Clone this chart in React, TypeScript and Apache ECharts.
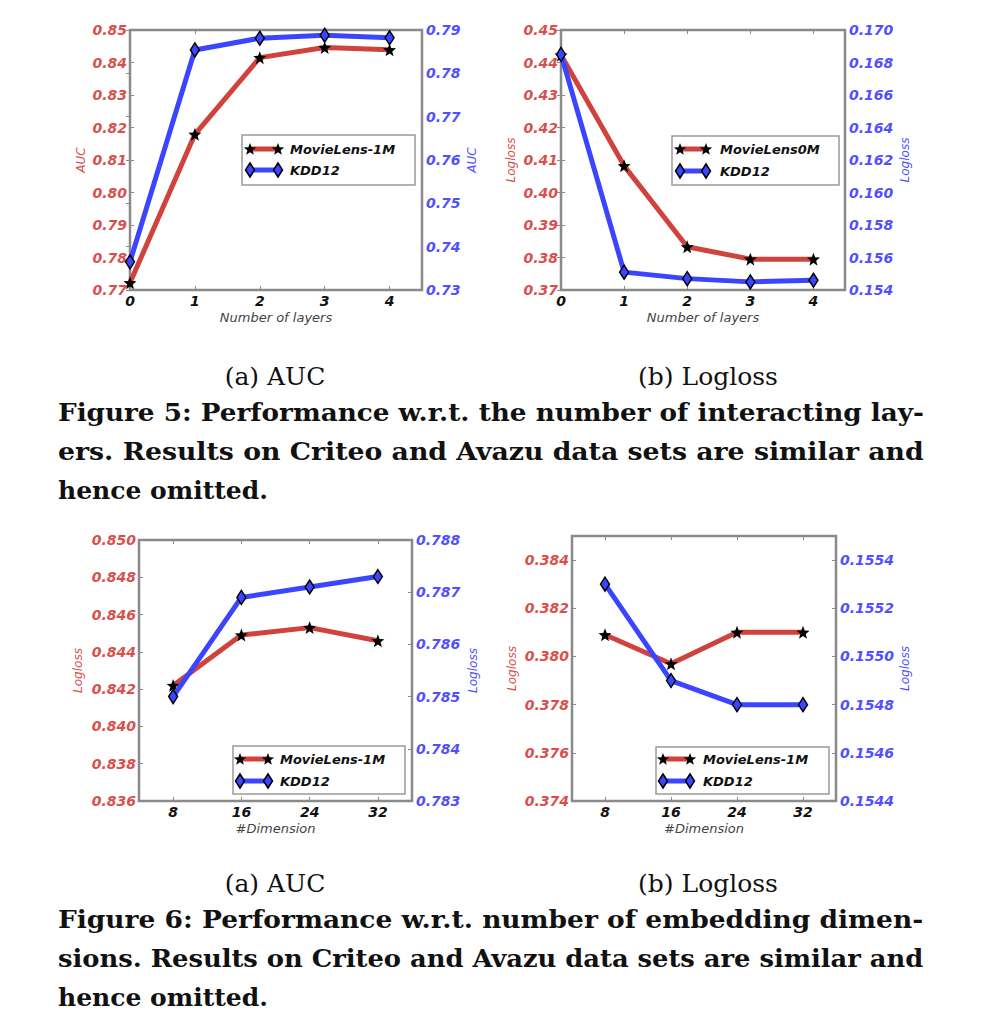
import React, { useEffect, useRef } from "react";
import * as echarts from "echarts";

// ---------------- data ----------------
const layers = [0, 1, 2, 3, 4];
const dims = ["8", "16", "24", "32"];

const f5aMovie = [0.7722, 0.8179, 0.8415, 0.8446, 0.8439];
const f5aKdd = [0.7365, 0.7854, 0.7881, 0.7888, 0.7882];
const f5bMovie = [0.4423, 0.4082, 0.3833, 0.3795, 0.3795];
const f5bKdd = [0.1685, 0.1551, 0.1547, 0.1545, 0.1546];
const f6aMovie = [0.8422, 0.8449, 0.8453, 0.8446];
const f6aKdd = [0.785, 0.7869, 0.7871, 0.7873];
const f6bMovie = [0.3809, 0.3797, 0.381, 0.381];
const f6bKdd = [0.1553, 0.1549, 0.1548, 0.1548];

const subCaptions = ["(a) AUC", "(b) Logloss"];
const fig5Lines = [
  "Figure 5: Performance w.r.t. the number of interacting lay-",
  "ers. Results on Criteo and Avazu data sets are similar and",
  "hence omitted.",
];
const fig6Lines = [
  "Figure 6: Performance w.r.t. number of embedding dimen-",
  "sions. Results on Criteo and Avazu data sets are similar and",
  "hence omitted.",
];

// ---------------- style ----------------
const RED = "#d0433d";
const BLUE = "#3b45ff";
const RED_TXT = "#d9504b";
const BLUE_TXT = "#5050ff";
const FRAME = "#8a8a8a";
const SANS = "DejaVu Sans";
const SERIF = "DejaVu Serif";

function starPath(): string {
  const pts: number[][] = [];
  for (let k = 0; k < 10; k++) {
    const r = k % 2 === 0 ? 1 : 0.42;
    const a = -Math.PI / 2 + (k * Math.PI) / 5;
    pts.push([r * Math.cos(a), r * Math.sin(a)]);
  }
  return "path://" + pts.map((p, i) => (i ? "L" : "M") + p[0].toFixed(3) + "," + p[1].toFixed(3)).join(" ") + " Z";
}
function starPoints(cx: number, cy: number, R: number): number[][] {
  const pts: number[][] = [];
  for (let k = 0; k < 10; k++) {
    const r = k % 2 === 0 ? R : R * 0.42;
    const a = -Math.PI / 2 + (k * Math.PI) / 5;
    pts.push([cx + r * Math.cos(a), cy + r * Math.sin(a)]);
  }
  return pts;
}
const STAR = starPath();

type Panel = {
  grid: { left: number; top: number; width: number; height: number };
  cat: boolean;
  xName: string;
  left: { min: number; max: number; interval: number; digits: number; name: string; gap: number };
  right: { min: number; max: number; interval: number; digits: number; name: string; gap: number };
  movieName: string;
  movie: number[];
  kdd: number[];
  legend: { x: number; y: number; w: number; h: number; rows: number[]; h1: number; h2: number; tx: number };
};

const panels: Panel[] = [
  {
    grid: { left: 130, top: 30, width: 292, height: 260 },
    cat: false,
    xName: "Number of layers",
    left: { min: 0.77, max: 0.85, interval: 0.01, digits: 2, name: "AUC", gap: 43 },
    right: { min: 0.73, max: 0.79, interval: 0.01, digits: 2, name: "AUC", gap: 44 },
    movieName: "MovieLens-1M",
    movie: f5aMovie,
    kdd: f5aKdd,
    legend: { x: 242, y: 135, w: 173, h: 50, rows: [149, 170], h1: 250, h2: 278, tx: 290 },
  },
  {
    grid: { left: 561, top: 30, width: 284, height: 260 },
    cat: false,
    xName: "Number of layers",
    left: { min: 0.37, max: 0.45, interval: 0.01, digits: 2, name: "Logloss", gap: 44 },
    right: { min: 0.154, max: 0.17, interval: 0.002, digits: 3, name: "Logloss", gap: 54 },
    movieName: "MovieLens0M",
    movie: f5bMovie,
    kdd: f5bKdd,
    legend: { x: 672, y: 136, w: 167, h: 49, rows: [149, 171], h1: 680, h2: 706, tx: 720 },
  },
  {
    grid: { left: 139, top: 540, width: 273, height: 261 },
    cat: true,
    xName: "#Dimension",
    left: { min: 0.836, max: 0.85, interval: 0.002, digits: 3, name: "Logloss", gap: 55 },
    right: { min: 0.783, max: 0.788, interval: 0.001, digits: 3, name: "Logloss", gap: 55 },
    movieName: "MovieLens-1M",
    movie: f6aMovie,
    kdd: f6aKdd,
    legend: { x: 233, y: 746, w: 172, h: 48, rows: [759, 781], h1: 240, h2: 268, tx: 280 },
  },
  {
    grid: { left: 572, top: 536, width: 264, height: 265 },
    cat: true,
    xName: "#Dimension",
    left: { min: 0.374, max: 0.385, interval: 0.002, digits: 3, name: "Logloss", gap: 54 },
    right: { min: 0.1544, max: 0.1555, interval: 0.0002, digits: 4, name: "Logloss", gap: 63 },
    movieName: "MovieLens-1M",
    movie: f6bMovie,
    kdd: f6bKdd,
    legend: { x: 656, y: 747, w: 173, h: 47, rows: [759, 781], h1: 663, h2: 690, tx: 703 },
  },
];

function measure(text: string, font: string): number {
  const ctx = document.createElement("canvas").getContext("2d");
  if (!ctx) return text.length * 14;
  ctx.font = font;
  return ctx.measureText(text).width;
}

function buildOption() {
  const grids: any[] = [];
  const xAxes: any[] = [];
  const yAxes: any[] = [];
  const series: any[] = [];
  const graphics: any[] = [];

  const tick = { show: true, inside: true, length: 4, lineStyle: { color: FRAME, width: 1 } };

  panels.forEach((p, i) => {
    grids.push({
      ...p.grid,
      show: true,
      borderColor: FRAME,
      borderWidth: 2.5,
      backgroundColor: "transparent",
      containLabel: false,
    });
    const xCommon: any = p.cat
      ? { type: "category", data: dims, boundaryGap: true, axisTick: { ...tick, alignWithLabel: true } }
      : {
          type: "value",
          min: 0,
          max: 4.5,
          interval: 1,
          axisTick: tick,
        };
    xAxes.push({
      ...xCommon,
      gridIndex: i,
      position: "bottom",
      axisLine: { show: false },
      splitLine: { show: false },
      axisLabel: {
        color: "#111",
        fontFamily: SANS,
        fontWeight: "bold",
        fontStyle: "italic",
        fontSize: 14,
        margin: 4,
        showMaxLabel: p.cat ? true : false,
        formatter: (v: any) => (p.cat ? String(v) : Number.isInteger(Number(v)) ? String(v) : ""),
      },
      name: p.xName,
      nameLocation: "middle",
      nameGap: 21,
      nameTextStyle: { color: "#444", fontFamily: SANS, fontStyle: "italic", fontSize: 13 },
    });
    xAxes.push({
      ...xCommon,
      gridIndex: i,
      position: "top",
      axisLine: { show: false },
      splitLine: { show: false },
      axisLabel: { show: false },
    });
    const yAx = (a: Panel["left"], pos: "left" | "right", color: string) => ({
      type: "value",
      gridIndex: i,
      position: pos,
      min: a.min,
      max: a.max,
      interval: a.interval,
      axisLine: { show: false },
      axisTick: tick,
      splitLine: { show: false },
      axisLabel: {
        color,
        fontFamily: SANS,
        fontWeight: "bold",
        fontStyle: "italic",
        fontSize: 14,
        margin: pos === "left" ? 3 : 4,
        formatter: (v: number) => {
          const k = Math.round((v - a.min) / a.interval);
          if (Math.abs(a.min + k * a.interval - v) > a.interval * 0.01) return "";
          return v.toFixed(a.digits);
        },
      },
      name: a.name,
      nameLocation: "middle",
      nameRotate: 90,
      nameGap: a.gap,
      nameTextStyle: { color, fontFamily: SANS, fontStyle: "italic", fontSize: 12 },
    });
    yAxes.push(yAx(p.left, "left", RED_TXT));
    yAxes.push(yAx(p.right, "right", BLUE_TXT));

    const xIdx = i * 2;
    const mData = p.cat ? p.movie : layers.map((x, j) => [x, p.movie[j]]);
    const kData = p.cat ? p.kdd : layers.map((x, j) => [x, p.kdd[j]]);
    series.push({
      name: p.movieName,
      type: "line",
      xAxisIndex: xIdx,
      yAxisIndex: i * 2,
      data: mData,
      symbol: STAR,
      symbolSize: 13,
      showAllSymbol: true,
      itemStyle: { color: "#000" },
      lineStyle: { color: RED, width: 5 },
      z: 3,
    });
    series.push({
      name: "KDD12",
      type: "line",
      xAxisIndex: xIdx,
      yAxisIndex: i * 2 + 1,
      data: kData,
      symbol: "diamond",
      symbolSize: [9, 14],
      showAllSymbol: true,
      itemStyle: { color: BLUE, borderColor: "#000", borderWidth: 1.5 },
      lineStyle: { color: BLUE, width: 5 },
      z: 4,
    });

    // legend box (matplotlib style, two markers per handle)
    const L = p.legend;
    graphics.push({
      type: "rect",
      z: 100,
      shape: { x: L.x, y: L.y, width: L.w, height: L.h },
      style: { fill: "#fff", stroke: "#9a9a9a", lineWidth: 1.5 },
    });
    graphics.push({
      type: "line",
      z: 101,
      shape: { x1: L.h1, y1: L.rows[0], x2: L.h2, y2: L.rows[0] },
      style: { stroke: RED, lineWidth: 5 },
    });
    graphics.push({
      type: "line",
      z: 101,
      shape: { x1: L.h1, y1: L.rows[1], x2: L.h2, y2: L.rows[1] },
      style: { stroke: BLUE, lineWidth: 5 },
    });
    [L.h1, L.h2].forEach((hx) => {
      graphics.push({
        type: "polygon",
        z: 102,
        shape: { points: starPoints(hx, L.rows[0] + 0.5, 6.5) },
        style: { fill: "#000" },
      });
      graphics.push({
        type: "polygon",
        z: 102,
        shape: {
          points: [
            [hx, L.rows[1] - 7],
            [hx + 4.5, L.rows[1]],
            [hx, L.rows[1] + 7],
            [hx - 4.5, L.rows[1]],
          ],
        },
        style: { fill: BLUE, stroke: "#000", lineWidth: 1.5 },
      });
    });
    [p.movieName, "KDD12"].forEach((t, j) => {
      graphics.push({
        type: "text",
        z: 102,
        x: L.tx,
        y: L.rows[j],
        style: {
          text: t,
          fill: "#111",
          fontFamily: SANS,
          fontWeight: "bold",
          fontStyle: "italic",
          fontSize: 13,
          textAlign: "left",
          textVerticalAlign: "middle",
        },
      });
    });
  });

  // captions
  const subCenters = [275, 708];
  const capLeft = 58;
  const capWidth = 866;
  const capFont = `bold 25px "${SERIF}"`;
  const addCaption = (lines: string[], subY: number, lineY: number[]) => {
    subCaptions.forEach((t, j) => {
      graphics.push({
        type: "text",
        x: subCenters[j],
        y: subY,
        style: {
          text: t,
          fill: "#111",
          fontFamily: SERIF,
          fontSize: 25,
          textAlign: "center",
          textVerticalAlign: "middle",
        },
      });
    });
    lines.forEach((t, j) => {
      const natural = measure(t, capFont);
      const justify = j < lines.length - 1;
      graphics.push({
        type: "text",
        x: capLeft,
        y: lineY[j],
        scaleX: justify && natural > 0 ? capWidth / natural : 1,
        style: {
          text: t,
          fill: "#111",
          fontFamily: SERIF,
          fontWeight: "bold",
          fontSize: 25,
          textAlign: "left",
          textVerticalAlign: "middle",
        },
      });
    });
  };
  addCaption(fig5Lines, 376, [412, 451, 490]);
  addCaption(fig6Lines, 883, [919, 958, 997]);

  return {
    animation: false,
    backgroundColor: "#fff",
    grid: grids,
    xAxis: xAxes,
    yAxis: yAxes,
    series,
    graphic: graphics,
  };
}

export default function App() {
  const ref = useRef<HTMLDivElement>(null);
  useEffect(() => {
    document.body.style.margin = "0";
    if (!ref.current) return;
    const chart = echarts.init(ref.current, undefined, { renderer: "svg" });
    chart.setOption(buildOption() as any);
    return () => chart.dispose();
  }, []);
  return <div ref={ref} style={{ width: 982, height: 1036 }} />;
}
